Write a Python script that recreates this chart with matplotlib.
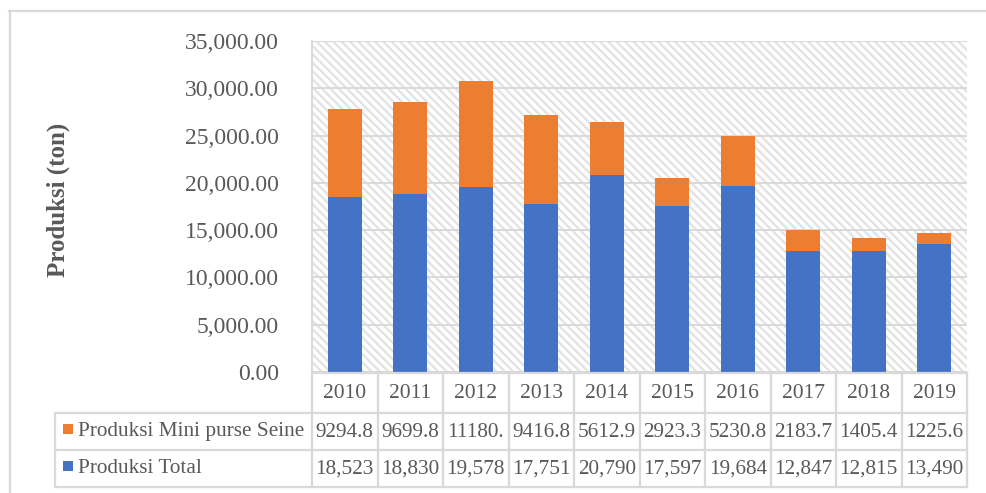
import matplotlib
matplotlib.use("Agg")
import matplotlib.pyplot as plt
from matplotlib.lines import Line2D
from matplotlib.patches import Rectangle

# ---- data -------------------------------------------------------------
years = ["2010", "2011", "2012", "2013", "2014", "2015", "2016", "2017", "2018", "2019"]
produksi_total = [18523, 18830, 19578, 17751, 20790, 17597, 19684, 12847, 12815, 13490]
produksi_mini = [9294.8, 9699.8, 11180.0, 9416.8, 5612.9, 2923.3, 5230.8, 2183.7, 1405.4, 1225.6]
series_names = ["Produksi Mini purse Seine", "Produksi Total"]
y_ticks = [0, 5000, 10000, 15000, 20000, 25000, 30000, 35000]

# ---- style ------------------------------------------------------------
BLUE = "#4472C4"
ORANGE = "#ED7D31"
GRID = "#d9d9d9"
TEXT = "#595959"
FONT = ["Liberation Serif", "DejaVu Serif"]
plt.rcParams["font.family"] = FONT
plt.rcParams["hatch.linewidth"] = 1.6

W, H = 986, 493
fig = plt.figure(figsize=(W / 100, H / 100), dpi=100)
fig.patch.set_facecolor("white")

def px_box(x0, y0, x1, y1):
    """Pixel box (top-left origin) -> figure fraction [l, b, w, h]."""
    return [x0 / W, 1 - y1 / H, (x1 - x0) / W, (y1 - y0) / H]

# ---- bar chart --------------------------------------------------------
ax = fig.add_axes(px_box(312, 41, 967, 372))
ax.set_xlim(-0.5, len(years) - 0.5)
ax.set_ylim(0, 35000)

# fine diagonal hatched plot-area background
ax.add_patch(Rectangle((0, 0), 1, 1, transform=ax.transAxes, facecolor="white",
                       edgecolor="#e2e2e2", hatch="\\\\\\\\", lw=0, zorder=0))

x = range(len(years))
ax.bar(x, produksi_total, width=0.52, color=BLUE, zorder=3)
ax.bar(x, produksi_mini, width=0.52, bottom=produksi_total, color=ORANGE, zorder=3)

ax.set_yticks(y_ticks)
ax.set_yticklabels([f"{v:,.2f}" for v in y_ticks], fontsize=17, color=TEXT)
ax.tick_params(axis="y", length=0, pad=24)
ax.set_xticks([])
ax.yaxis.grid(True, color=GRID, lw=1.4, zorder=1)
ax.set_axisbelow(True)
for side in ("right", "bottom", "top"):
    ax.spines[side].set_visible(False)
ax.spines["left"].set_color(GRID)
ax.spines["left"].set_linewidth(1.4)

fig.text(58 / W, 1 - 200 / H, "Produksi (ton)", rotation=90, ha="center", va="center",
         fontsize=18, fontweight="bold", color=TEXT)

# ---- data table -------------------------------------------------------
tab = fig.add_axes(px_box(312, 373, 967, 487))
tab.set_xlim(-0.5, len(years) - 0.5)
tab.set_ylim(114, 0)
tab.axis("off")

col_w = 655 / len(years)           # pixels per column
label_left = -0.5 - (312 - 55) / col_w
rows = [0, 40, 77, 114]
lk = dict(color=GRID, lw=1.6, clip_on=False, solid_capstyle="projecting")

# horizontal rules
tab.plot([-0.5, len(years) - 0.5], [rows[0]] * 2, **lk)
for r in rows[1:]:
    tab.plot([label_left, len(years) - 0.5], [r, r], **lk)
# vertical rules
for k in range(len(years) + 1):
    tab.plot([k - 0.5, k - 0.5], [rows[0], rows[-1]], **lk)
tab.plot([label_left, label_left], [rows[1], rows[-1]], **lk)

# header row: years
for i, yr in enumerate(years):
    tab.text(i, (rows[0] + rows[1]) / 2, yr, ha="center", va="center",
             fontsize=15.5, color=TEXT)

# value rows (each cell holds six characters)
mini_cells = [f"{v:.1f}"[:6] for v in produksi_mini]
total_cells = [f"{v:,.0f}" for v in produksi_total]
for r, cells in ((1, mini_cells), (2, total_cells)):
    yc = (rows[r] + rows[r + 1]) / 2
    for i, s in enumerate(cells):
        tab.text(i, yc + 1, s, ha="center", va="center", fontsize=15.3, color=TEXT)

# row labels with legend keys
key_w = 10 / col_w
for r, name, col in ((1, series_names[0], ORANGE), (2, series_names[1], BLUE)):
    yc = (rows[r] + rows[r + 1]) / 2
    tab.add_patch(Rectangle((-0.5 - (312 - 63) / col_w, yc - 8), key_w, 10,
                            facecolor=col, edgecolor="none", clip_on=False))
    tab.text(-0.5 - (312 - 78) / col_w, yc, name, ha="left", va="center",
             fontsize=15.3, color=TEXT)

# outer chart frame (top and left edges)
fig.add_artist(Line2D([9 / W, 1], [1 - 11 / H] * 2, transform=fig.transFigure,
                      color=GRID, lw=1.6))
fig.add_artist(Line2D([10 / W] * 2, [0, 1 - 11 / H], transform=fig.transFigure,
                      color=GRID, lw=1.6))

fig.savefig("out.png", dpi=100, facecolor="white")
